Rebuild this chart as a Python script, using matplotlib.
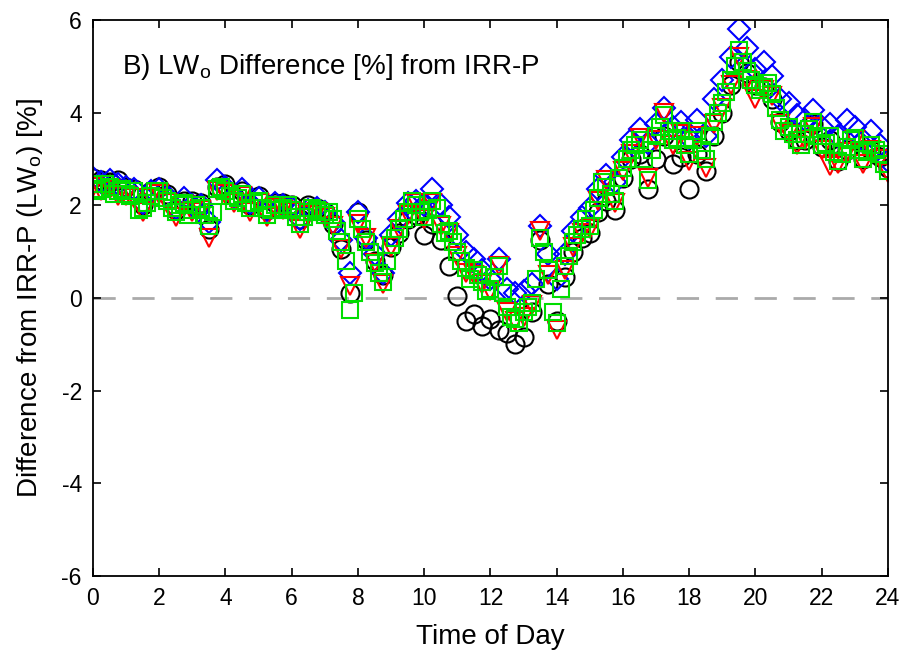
import matplotlib
matplotlib.use('Agg')
import matplotlib.pyplot as plt
import numpy as np

plt.rcParams['font.family'] = ['Liberation Sans', 'DejaVu Sans']
plt.rcParams['mathtext.default'] = 'regular'
plt.rcParams['axes.unicode_minus'] = False

# time of day, every 15 min (+ in-between samples for the green series)
hours = np.arange(0, 24.01, 0.25)
hours_mid = np.arange(0.125, 24, 0.25)

# black circles
diff_black = [2.60, 2.55, 2.50, 2.55, 2.40, 2.35, 2.00, 2.30, 2.40, 2.25, 1.90, 2.10,
              2.10, 2.05, 1.50, 2.40, 2.45, 2.20, 2.30, 2.00, 2.20, 1.90, 2.05, 2.05,
              2.00, 1.70, 2.00, 1.95, 1.85, 1.60, 1.05, 0.10, 1.85, 1.25, 0.80, 0.50,
              1.10, 1.40, 1.70, 1.80, 1.35, 1.60, 1.25, 0.70, 0.05, -0.50, -0.35, -0.60,
              -0.45, -0.70, -0.75, -1.00, -0.85, -0.30, 1.25, 0.30, -0.50, 0.45, 1.00, 1.30,
              1.40, 1.85, 2.10, 1.90, 2.60, 3.00, 3.10, 2.35, 3.00, 3.50, 2.90, 3.05,
              2.35, 3.10, 2.75, 3.50, 4.00, 4.60, 5.10, 4.85, 4.60, 4.55, 4.30, 3.80,
              3.60, 3.40, 3.40, 3.75, 3.25, 3.40, 2.95, 3.20, 3.40, 3.00, 3.20, 3.05,
              2.80]

# blue diamonds
diff_blue = [2.60, 2.50, 2.55, 2.45, 2.40, 2.35, 2.05, 2.30, 2.35, 2.20, 1.95, 2.15,
             2.00, 2.00, 1.65, 2.55, 2.40, 2.20, 2.35, 2.05, 2.15, 1.90, 2.05, 2.00,
             1.95, 1.70, 1.90, 1.95, 1.85, 1.65, 1.25, 0.55, 1.85, 1.30, 0.95, 0.55,
             1.35, 1.70, 2.05, 2.10, 2.00, 2.35, 2.00, 1.75, 1.35, 1.00, 0.85, 0.60,
             0.40, 0.85, 0.20, 0.10, 0.15, 0.30, 1.55, 0.95, 0.40, 0.95, 1.45, 1.75,
             1.95, 2.35, 2.65, 2.50, 3.05, 3.40, 3.65, 3.35, 3.75, 4.10, 3.70, 3.80,
             3.45, 3.85, 3.50, 4.30, 4.70, 5.20, 5.80, 5.40, 4.95, 5.10, 4.80, 4.30,
             4.20, 3.95, 3.85, 4.05, 3.70, 3.75, 3.50, 3.85, 3.70, 3.40, 3.60, 3.30,
             2.95]

# red triangles
diff_red = [2.40, 2.30, 2.35, 2.20, 2.20, 2.15, 1.85, 2.15, 2.25, 2.05, 1.75, 2.00,
            1.85, 1.90, 1.30, 2.30, 2.25, 2.05, 2.20, 1.85, 2.05, 1.75, 1.95, 1.90,
            1.85, 1.50, 1.80, 1.85, 1.75, 1.55, 1.05, 0.25, 1.60, 1.30, 0.75, 0.30,
            1.10, 1.50, 1.80, 2.05, 1.70, 2.05, 1.55, 1.40, 0.90, 0.55, 0.50, 0.30,
            0.15, 0.70, -0.30, -0.50, -0.40, -0.15, 1.45, 0.50, -0.70, 0.60, 1.10, 1.40,
            1.50, 2.10, 2.55, 2.05, 2.75, 3.10, 3.45, 2.60, 3.40, 4.00, 3.30, 3.55,
            2.95, 3.50, 2.80, 3.75, 4.10, 4.60, 5.20, 4.70, 4.30, 4.50, 4.35, 3.75,
            3.55, 3.30, 3.40, 3.70, 3.20, 2.85, 2.90, 3.15, 3.40, 2.90, 3.20, 3.00,
            2.70]

# green squares
diff_green = [2.45, 2.35, 2.40, 2.30, 2.25, 2.30, 1.95, 2.20, 2.30, 2.10, 1.85, 2.05,
              1.90, 1.95, 1.55, 2.35, 2.30, 2.10, 2.25, 1.95, 2.10, 1.80, 2.00, 1.95,
              1.90, 1.60, 1.85, 1.90, 1.80, 1.70, 1.20, -0.25, 1.70, 1.20, 0.75, 0.35,
              1.15, 1.50, 1.85, 2.00, 1.75, 2.10, 1.60, 1.45, 1.00, 0.65, 0.60, 0.35,
              0.20, 0.70, -0.20, -0.45, -0.30, -0.10, 1.30, 0.60, -0.55, 0.70, 1.20, 1.50,
              1.55, 2.15, 2.40, 2.10, 2.80, 3.20, 3.40, 2.55, 3.50, 3.95, 3.40, 3.60,
              3.10, 3.60, 3.00, 3.80, 4.20, 4.70, 5.35, 4.90, 4.60, 4.55, 4.40, 3.85,
              3.70, 3.40, 3.55, 3.80, 3.30, 3.50, 2.95, 3.25, 3.45, 3.00, 3.30, 3.10,
              2.75]

diff_green_mid = [2.30, 2.45, 2.25, 2.35, 2.20, 1.90, 2.05, 2.30, 2.15, 1.95, 2.00, 1.80,
                  2.00, 1.80, 1.85, 2.40, 2.20, 2.15, 2.05, 2.05, 1.95, 1.90, 1.90, 2.00,
                  1.75, 1.75, 1.95, 1.85, 1.85, 1.45, 0.80, 0.10, 1.50, 1.00, 0.55, 0.80,
                  1.30, 1.70, 2.10, 1.85, 1.90, 1.95, 1.40, 1.20, 0.80, 0.40, 0.50, 0.15,
                  0.45, 0.10, -0.40, -0.55, -0.20, 0.40, 1.00, -0.30, 0.20, 0.90, 1.35, 1.70,
                  1.90, 2.50, 2.25, 2.60, 3.00, 3.30, 3.00, 3.20, 3.70, 3.60, 3.45, 3.30,
                  3.40, 3.20, 3.50, 4.00, 4.45, 5.00, 5.10, 4.70, 4.50, 4.65, 4.10, 3.60,
                  3.55, 3.30, 3.65, 3.50, 3.35, 3.15, 3.10, 3.40, 3.20, 3.15, 3.20, 2.90]

fig = plt.figure(figsize=(9.07, 6.67), dpi=100)
ax = fig.add_axes([0.1025, 0.1364, 0.8765, 0.8336])

ax.axhline(0, color='#aaaaaa', lw=2, dashes=(8, 6), zorder=1)

mk = dict(ls='none', mfc='none', ms=13, mew=1.5)
ax.plot(hours, diff_black, marker='o', mec='black', **mk)
ax.plot(hours, diff_blue, marker='D', mec='#0000ff', **dict(mk, ms=11))
ax.plot(hours, diff_red, marker='v', mec='#ff0000', **mk)
ax.plot(hours_mid, diff_green_mid, marker='s', mec='#00dd00', **dict(mk, ms=12))
ax.plot(hours, diff_green, marker='s', mec='#00dd00', **dict(mk, ms=12))

ax.set_xlim(0, 24)
ax.set_ylim(-6, 6)
ax.set_xticks(np.arange(0, 25, 2))
ax.set_yticks(np.arange(-6, 7, 2))
ax.tick_params(direction='in', length=6, width=1.2, top=True, right=True,
               labelsize=16.5, pad=8)
for s in ax.spines.values():
    s.set_linewidth(1.3)

ax.text(0.036, 0.915, 'B) LW$_o$ Difference [%] from IRR-P', transform=ax.transAxes,
        fontsize=20, va='center', ha='left')
ax.set_xlabel('Time of Day', fontsize=20, labelpad=10)
ax.set_ylabel('Difference from IRR-P (LW$_o$) [%]', fontsize=20, labelpad=12)

fig.savefig('out.png', dpi=100)
